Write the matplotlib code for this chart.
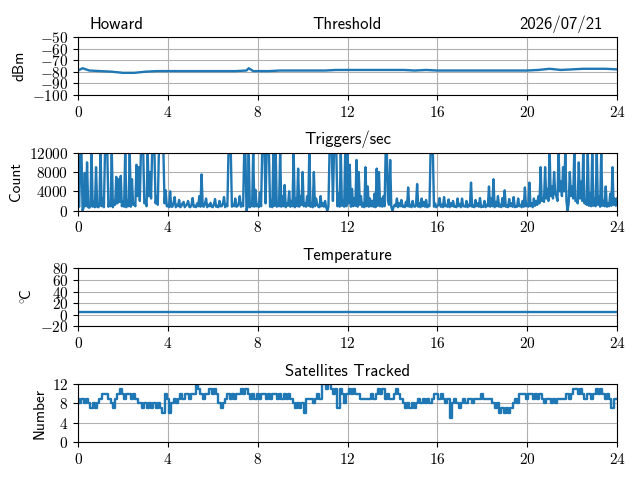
import numpy as np
import matplotlib
matplotlib.use("Agg")
import matplotlib.pyplot as plt
from matplotlib.ticker import FuncFormatter

plt.rcParams["mathtext.fontset"] = "cm"

# ── Data ──────────────────────────────────────────────────────
station = "Howard"
date_str = "2026/07/21"

thr_hours = [0, 0.2, 0.5, 1, 1.5, 2, 2.5, 3, 3.5, 4, 4.5, 5, 5.5, 6, 6.5, 7,
             7.5, 7.6, 7.8, 8, 8.5, 9, 9.5, 10, 10.5, 11, 11.5, 12, 12.5, 13,
             13.5, 14, 14.5, 15, 15.5, 16, 16.5, 17, 17.5, 18, 18.5, 19, 19.5,
             20, 20.5, 21, 21.5, 22, 22.5, 23, 23.5, 24]
thr_dbm = [-79, -77, -79, -79.5, -80, -81, -81, -80, -79.5, -79.5, -79.5,
           -79.5, -79.5, -79.5, -79.5, -79.5, -79, -77, -79.5, -79.5, -79.5,
           -79, -79, -79, -79, -79, -78.5, -78.5, -78.5, -78.5, -78.5, -78.5,
           -78.5, -79, -78.5, -79, -79, -79, -79, -79, -79, -79, -79, -79,
           -78.5, -77.5, -78.5, -78, -77.5, -77.5, -77.5, -78]

# triggers/sec, one value every 0.05 h (row = one hour)
trig_counts = [
    1500, 800, 12500, 12500, 0, 700, 7800, 900, 10000, 700, 600, 900, 12500, 800, 1800, 700, 9000, 800, 700, 1000,
    12500, 900, 2500, 700, 12500, 12500, 12500, 800, 1500, 900, 12500, 700, 2000, 1200, 7000, 1500, 6500, 1800, 7200, 900,
    1800, 800, 12500, 700, 2000, 900, 12500, 800, 6500, 1200, 1500, 900, 9500, 3000, 9000, 2000, 12500, 12500, 12500, 1500,
    2000, 900, 12500, 3000, 8000, 2500, 12500, 12500, 12500, 1500, 3000, 1200, 12500, 12500, 12500, 12500, 12500, 1500, 4200, 900,
    1000, 700, 4000, 800, 800, 1500, 2800, 700, 1200, 900, 2200, 700, 900, 1500, 1800, 700, 1000, 1300, 2000, 800,
    700, 1200, 2600, 800, 1000, 700, 1500, 900, 3000, 800, 7500, 900, 800, 1400, 2500, 700, 1200, 900, 1600, 800,
    700, 1300, 2400, 800, 1000, 700, 2000, 900, 900, 1500, 2800, 700, 1200, 900, 12500, 12500, 12500, 800, 1200, 900,
    2500, 800, 900, 1400, 3000, 800, 1500, 900, 12500, 12500, 0, 800, 12500, 700, 1500, 900, 12500, 800, 4300, 900,
    1200, 700, 3800, 900, 12500, 12500, 12500, 1500, 12500, 12500, 12500, 800, 2000, 700, 12500, 1000, 12500, 800, 1500, 900,
    12500, 800, 3000, 900, 5300, 700, 1500, 1000, 4000, 800, 2000, 900, 12500, 700, 2500, 900, 8700, 800, 3000, 1200,
    8000, 900, 1500, 800, 3000, 1000, 12500, 800, 1500, 700, 8000, 900, 2500, 1200, 800, 700, 3000, 900, 1500, 800,
    2000, 700, 0, 800, 12500, 12500, 12500, 2000, 12500, 12500, 12500, 900, 3500, 800, 12500, 1000, 2000, 800, 12500, 900,
    12500, 1500, 9500, 800, 4500, 900, 2500, 1000, 10500, 800, 8000, 1200, 3000, 800, 1500, 700, 9000, 900, 5000, 800,
    2500, 900, 2000, 800, 3500, 700, 8700, 1000, 8000, 900, 2500, 800, 3000, 900, 12500, 12500, 2000, 1200, 10500, 800,
    0, 700, 1200, 900, 2500, 700, 1500, 900, 2200, 800, 1000, 700, 1800, 900, 4800, 800, 1200, 700, 2000, 900,
    800, 1000, 5500, 800, 1500, 700, 2500, 900, 1800, 800, 2200, 700, 1000, 900, 12500, 12500, 12500, 800, 1500, 700,
    900, 1200, 2600, 800, 1200, 700, 2800, 900, 1000, 800, 2300, 700, 1500, 900, 2000, 800, 900, 700, 2500, 900,
    1300, 700, 2500, 900, 900, 800, 2000, 700, 1200, 900, 5800, 800, 1000, 700, 2200, 900, 1500, 800, 2600, 700,
    900, 800, 2000, 700, 1200, 900, 5000, 800, 2500, 900, 6500, 700, 1800, 900, 3000, 800, 1200, 700, 2600, 900,
    4200, 800, 1000, 700, 2400, 900, 1500, 800, 2800, 700, 900, 800, 2500, 900, 1200, 700, 2000, 800, 4800, 900,
    1200, 800, 5800, 900, 1500, 700, 2500, 1000, 2000, 1200, 3000, 1500, 9000, 2000, 2500, 1800, 9000, 2500, 4500, 2000,
    12500, 3000, 5000, 2500, 8000, 3500, 3000, 2000, 12500, 4000, 6000, 3000, 9000, 4000, 12500, 2000, 0, 1500, 8000, 3000,
    5000, 2500, 12500, 2000, 2000, 1500, 10000, 2500, 6000, 2000, 12500, 1500, 2000, 1200, 12500, 1000, 3500, 900, 12500, 1000,
    2500, 900, 12500, 1200, 3000, 800, 12500, 1000, 2000, 900, 5000, 800, 1500, 900, 3500, 1000, 9000, 1200, 2500, 1000,
    2500,
]

temp_hours = [0, 24]
temp_c = [5, 5]

# satellites tracked, one value every 0.1 h
sats = [
    9, 8, 9, 8, 9, 8, 7, 8, 7, 8,
    9, 10, 10, 10, 9, 8, 7, 9, 10, 11,
    10, 9, 10, 10, 9, 10, 9, 8, 8, 7,
    8, 7, 8, 7, 8, 7, 8, 7, 6, 10,
    9, 6, 8, 9, 8, 9, 10, 9, 10, 10,
    9, 10, 10, 12, 11, 10, 9, 10, 10, 11,
    10, 11, 10, 8, 7, 8, 9, 10, 9, 10,
    9, 10, 10, 11, 10, 11, 10, 9, 10, 9,
    10, 9, 10, 10, 9, 10, 9, 10, 10, 9,
    10, 9, 10, 9, 10, 9, 8, 7, 8, 7,
    8, 6, 9, 9, 9, 8, 9, 10, 9, 12,
    12, 11, 12, 11, 10, 11, 7, 11, 10, 8,
    10, 11, 10, 11, 10, 10, 9, 9, 9, 9,
    9, 10, 9, 10, 11, 10, 11, 9, 10, 9,
    9, 10, 11, 10, 9, 8, 7, 8, 7, 8,
    7, 8, 9, 8, 9, 8, 9, 8, 9, 10,
    10, 9, 10, 9, 8, 9, 5, 8, 9, 8,
    7, 8, 9, 8, 9, 9, 8, 9, 9, 9,
    10, 9, 9, 9, 9, 8, 7, 8, 6, 7,
    6, 7, 6, 7, 8, 9, 8, 10, 10, 10,
    9, 10, 10, 9, 10, 9, 10, 9, 8, 9,
    9, 8, 9, 8, 9, 9, 9, 9, 10, 9,
    10, 11, 11, 10, 11, 10, 9, 10, 10, 9,
    10, 11, 10, 11, 10, 9, 10, 9, 7, 9,
    9,
]

trig_hours = np.arange(len(trig_counts)) * 24 / (len(trig_counts) - 1)
sat_hours = np.arange(len(sats)) * 24 / (len(sats) - 1)

panels = [
    ("Threshold", "dBm", thr_hours, thr_dbm, (-100, -50), [-100, -90, -80, -70, -60, -50], "default"),
    ("Triggers/sec", "Count", trig_hours, trig_counts, (0, 12000), [0, 4000, 8000, 12000], "default"),
    ("Temperature", r"$^\circ\!\!\mathsf{C}$", temp_hours, temp_c, (-20, 80), [-20, 0, 20, 40, 60, 80], "default"),
    ("Satellites Tracked", "Number", sat_hours, sats, (0, 12), [0, 4, 8, 12], "steps-mid"),
]

tick_fmt = FuncFormatter(lambda v, p: r"$\mathrm{%d}$" % int(round(v)))

fig, axes = plt.subplots(4, 1, figsize=(6.4, 4.8), dpi=100)
fig.subplots_adjust(left=0.122, right=0.964, top=0.923, bottom=0.079, hspace=1.0)

for ax, (title, ylab, x, y, ylim, yticks, ds) in zip(axes, panels):
    ax.plot(x, y, color="#1f77b4", linewidth=1.7, drawstyle=ds)
    ax.set_xlim(0, 24)
    ax.set_ylim(*ylim)
    ax.set_xticks(range(0, 25, 4))
    ax.set_yticks(yticks)
    ax.xaxis.set_major_formatter(tick_fmt)
    ax.yaxis.set_major_formatter(tick_fmt)
    ax.tick_params(labelsize=11)
    ax.grid(True)
    ax.set_title(title, fontfamily="cmss10", fontsize=12)
    ax.set_ylabel(ylab, fontfamily="cmss10", fontsize=11)

# station name and date flank the top title
for label, xpos, ha in [(station, 0.022, "left"), (date_str, 0.974, "right")]:
    axes[0].text(xpos, 1.0 + 8 / 58, label, transform=axes[0].transAxes, ha=ha,
                 va="baseline", fontfamily="cmss10", fontsize=12)

fig.savefig("out.png", dpi=100)
